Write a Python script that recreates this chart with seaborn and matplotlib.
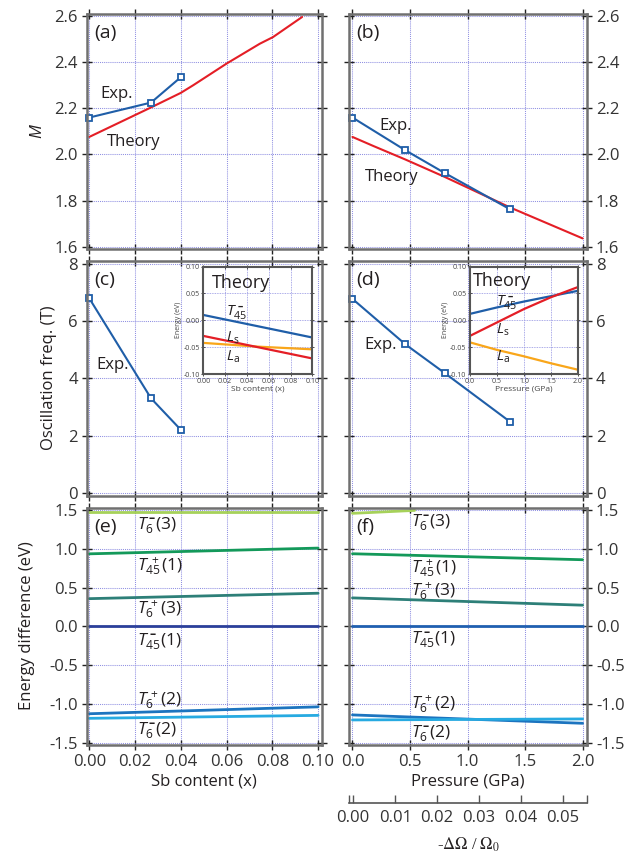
import matplotlib
matplotlib.use('Agg')
import matplotlib.pyplot as plt
from matplotlib.ticker import FormatStrFormatter
import seaborn as sns

# ---------------- data ----------------
sb_exp = [0.0, 0.027, 0.040]
M_sb_exp = [2.16, 2.225, 2.335]
sb_theory = [0.0, 0.0268, 0.040, 0.0454, 0.060, 0.0745, 0.0803, 0.093]
M_sb_theory = [2.076, 2.203, 2.267, 2.30, 2.394, 2.48, 2.509, 2.596]

p_exp = [0.0, 0.46, 0.80, 1.37]
M_p_exp = [2.16, 2.018, 1.92, 1.762]
p_theory = [0.0, 0.18, 0.46, 0.80, 1.37, 2.0]
M_p_theory = [2.076, 2.037, 1.978, 1.903, 1.770, 1.636]

F_sb_exp = [6.8, 3.3, 2.2]
F_p_exp = [6.78, 5.19, 4.19, 2.48]

# inset (c): band energies vs Sb content
inset_sb = [0.0, 0.05, 0.10]
T45_sb = [0.010, -0.011, -0.032]
Ls_sb = [-0.029, -0.050, -0.071]
La_sb = [-0.042, -0.049, -0.054]

# inset (d): band energies vs pressure
inset_p = [0.0, 0.5, 1.0, 1.5, 2.0]
T45_p = [0.012, 0.024, 0.035, 0.045, 0.055]
Ls_p = [-0.029, -0.004, 0.021, 0.043, 0.062]
La_p = [-0.041, -0.055, -0.067, -0.080, -0.092]

# (e) energy levels vs Sb content
e_x = [0.0, 0.10]
e_T6m3 = [1.475, 1.475]
e_T45p1 = [0.935, 1.009]
e_T6p3 = [0.357, 0.427]
e_T45m1 = [0.0, 0.0]
e_T6p2 = [-1.127, -1.038]
e_T6m2 = [-1.186, -1.148]

# (f) energy levels vs pressure
f_x = [0.0, 2.0]
f_x_T6m3 = [0.0, 0.54]
f_T6m3 = [1.457, 1.495]
f_T45p1 = [0.936, 0.859]
f_T6p3 = [0.367, 0.273]
f_T45m1 = [0.0, 0.0]
f_T6p2 = [-1.142, -1.250]
f_T6m2 = [-1.207, -1.194]

level_names = [('6', '-', '(3)'), ('45', '+', '(1)'), ('6', '+', '(3)'),
               ('45', '-', '(1)'), ('6', '+', '(2)'), ('6', '-', '(2)')]
e_label_y = [1.30, 0.78, 0.22, -0.20, -0.95, -1.35]
f_label_y = [1.33, 0.75, 0.45, -0.17, -1.0, -1.38]

sb_ticks = [0.0, 0.02, 0.04, 0.06, 0.08, 0.10]
p_ticks = [0.0, 0.5, 1.0, 1.5, 2.0]
M_ticks = [1.6, 1.8, 2.0, 2.2, 2.4, 2.6]
F_ticks = [0, 2, 4, 6, 8]
E_ticks = [-1.5, -1.0, -0.5, 0.0, 0.5, 1.0, 1.5]
omega_ticks = [0.00, 0.01, 0.02, 0.03, 0.04, 0.05]

# ---------------- style ----------------
sns.set_theme(style='white')
plt.rcParams['font.family'] = ['Open Sans', 'DejaVu Sans']
plt.rcParams['mathtext.fontset'] = 'custom'
plt.rcParams['mathtext.rm'] = 'Open Sans'
plt.rcParams['mathtext.it'] = 'Open Sans:italic'
plt.rcParams['mathtext.bf'] = 'Open Sans:bold'
plt.rcParams['axes.unicode_minus'] = False

blue = '#1f5ea8'
red = '#e41e26'
orange = '#f9a61a'
gridc = '#9090e2'
txt = '#231f20'

W, H = 641, 855
fig = plt.figure(figsize=(W / 100, H / 100), dpi=100)


def rect(x0, y0, x1, y1):
    return [x0 / W, 1 - y1 / H, (x1 - x0) / W, (y1 - y0) / H]


axA = fig.add_axes(rect(87, 14, 322, 249))
axB = fig.add_axes(rect(349, 14, 587, 249))
axC = fig.add_axes(rect(87, 261, 322, 496))
axD = fig.add_axes(rect(349, 261, 587, 496))
axE = fig.add_axes(rect(87, 508, 322, 745))
axF = fig.add_axes(rect(349, 508, 587, 745))


def style(ax, xlim, ylim, xticks, yticks, side, xlab, xfmt, yfmt):
    ax.set_xlim(xlim)
    ax.set_ylim(ylim)
    ax.set_xticks(xticks)
    ax.set_yticks(yticks)
    ax.xaxis.set_major_formatter(FormatStrFormatter(xfmt))
    ax.yaxis.set_major_formatter(FormatStrFormatter(yfmt))
    ax.set_axisbelow(True)
    ax.grid(True, color=gridc, ls=(0, (1, 1)), lw=0.75)
    ax.tick_params(direction='inout', length=7, width=1, color='#222222',
                   top=True, right=True, bottom=True, left=True,
                   labelsize=12, labelcolor='#333333', pad=3)
    if side == 'right':
        ax.tick_params(labelleft=False, labelright=True)
    if not xlab:
        ax.tick_params(labelbottom=False)
    for s in ax.spines.values():
        s.set_color('#707070')
        s.set_linewidth(1.8)
    ax.set_xlabel('')
    ax.set_ylabel('')


def tlabel(sub, sign, rest):
    sg = '\\mathbf{\u2013}' if sign == '-' else '+'
    gap = '\\,' if len(sub) == 1 else '\\;'
    return '$T_{%s}^{%s%s}$%s' % (sub, gap, sg, rest)


mk = dict(marker='s', markersize=5, markerfacecolor='white',
          markeredgecolor=blue, markeredgewidth=1.3, clip_on=False)

# (a)
sns.lineplot(x=sb_theory, y=M_sb_theory, ax=axA, color=red, lw=1.5, sort=False)
sns.lineplot(x=sb_exp, y=M_sb_exp, ax=axA, color=blue, lw=1.5, **mk)
style(axA, (-0.001, 0.1017), (1.59, 2.609), sb_ticks, M_ticks, 'left', False, '%.2f', '%.1f')
axA.text(0.005, 2.264, 'Exp.', fontsize=12, color=txt, va='center')
axA.text(0.0075, 2.055, 'Theory', fontsize=12, color=txt, va='center')

# (b)
sns.lineplot(x=p_theory, y=M_p_theory, ax=axB, color=red, lw=1.5, sort=False)
sns.lineplot(x=p_exp, y=M_p_exp, ax=axB, color=blue, lw=1.5, **mk)
style(axB, (-0.03, 2.038), (1.59, 2.609), p_ticks, M_ticks, 'right', False, '%.1f', '%.1f')
axB.text(0.232, 2.122, 'Exp.', fontsize=12, color=txt, va='center')
axB.text(0.107, 1.903, 'Theory', fontsize=12, color=txt, va='center')

# (c)
sns.lineplot(x=sb_exp, y=F_sb_exp, ax=axC, color=blue, lw=1.5, **mk)
style(axC, (-0.001, 0.1017), (-0.115, 8.105), sb_ticks, F_ticks, 'left', False, '%.2f', '%d')
axC.text(0.003, 4.47, 'Exp.', fontsize=12, color=txt, va='center')

# (d)
sns.lineplot(x=p_exp, y=F_p_exp, ax=axD, color=blue, lw=1.5, **mk)
style(axD, (-0.03, 2.038), (-0.115, 8.105), p_ticks, F_ticks, 'right', False, '%.1f', '%d')
axD.text(0.107, 5.17, 'Exp.', fontsize=12, color=txt, va='center')

# (e)
sns.lineplot(x=e_x, y=e_T6m3, ax=axE, color='#a6d15a', lw=2)
sns.lineplot(x=e_x, y=e_T45p1, ax=axE, color='#13995a', lw=2)
sns.lineplot(x=e_x, y=e_T6p3, ax=axE, color='#2d7f78', lw=2)
sns.lineplot(x=e_x, y=e_T45m1, ax=axE, color='#2b3f9a', lw=2)
sns.lineplot(x=e_x, y=e_T6p2, ax=axE, color='#1c74bf', lw=2)
sns.lineplot(x=e_x, y=e_T6m2, ax=axE, color='#27aae1', lw=2)
style(axE, (-0.001, 0.1017), (-1.53, 1.526), sb_ticks, E_ticks, 'left', True, '%.2f', '%.1f')

# (f)
sns.lineplot(x=f_x_T6m3, y=f_T6m3, ax=axF, color='#a6d15a', lw=2)
sns.lineplot(x=f_x, y=f_T45p1, ax=axF, color='#13995a', lw=2)
sns.lineplot(x=f_x, y=f_T6p3, ax=axF, color='#2d7f78', lw=2)
sns.lineplot(x=f_x, y=f_T45m1, ax=axF, color='#1f5fb0', lw=2)
sns.lineplot(x=f_x, y=f_T6p2, ax=axF, color='#1c74bf', lw=2)
sns.lineplot(x=f_x, y=f_T6m2, ax=axF, color='#27aae1', lw=2)
style(axF, (-0.03, 2.038), (-1.53, 1.526), p_ticks, E_ticks, 'right', True, '%.1f', '%.1f')

for (sub, sign, rest), y in zip(level_names, e_label_y):
    axE.text(0.021, y, tlabel(sub, sign, rest), fontsize=12.5, color=txt, va='center')
for (sub, sign, rest), y in zip(level_names, f_label_y):
    axF.text(0.51, y, tlabel(sub, sign, rest), fontsize=12.5, color=txt, va='center')

# panel letters
for ax, l in zip([axA, axB, axC, axD, axE, axF], ['(a)', '(b)', '(c)', '(d)', '(e)', '(f)']):
    ax.text(0.03, 0.92, l, transform=ax.transAxes, fontsize=14, color=txt, va='center')


# insets
def inset_style(ax, xlim, xticks, xfmt, xlabel):
    ax.set_facecolor('white')
    ax.set_xlim(xlim)
    ax.set_ylim(-0.10, 0.10)
    ax.set_xticks(xticks)
    ax.set_yticks([-0.10, -0.05, 0.0, 0.05, 0.10])
    ax.xaxis.set_major_formatter(FormatStrFormatter(xfmt))
    ax.yaxis.set_major_formatter(FormatStrFormatter('%.2f'))
    ax.set_axisbelow(True)
    ax.grid(True, color=gridc, ls=(0, (1, 1)), lw=0.6)
    ax.tick_params(direction='inout', length=3, width=0.6, color='#333333',
                   top=True, right=True, bottom=True, left=True,
                   labelsize=5, labelcolor='#444444', pad=1)
    for s in ax.spines.values():
        s.set_color('#555555')
        s.set_linewidth(1.5)
    ax.set_xlabel(xlabel, fontsize=6, color='#444444', labelpad=1)
    ax.set_ylabel('Energy (eV)', fontsize=5, color='#444444', labelpad=1)


insC = axC.inset_axes([0.495, 0.519, 0.464, 0.457])
sns.lineplot(x=inset_sb, y=La_sb, ax=insC, color=orange, lw=1.6)
sns.lineplot(x=inset_sb, y=Ls_sb, ax=insC, color=red, lw=1.6)
sns.lineplot(x=inset_sb, y=T45_sb, ax=insC, color=blue, lw=1.6)
inset_style(insC, (0, 0.10), sb_ticks, '%.2f', 'Sb content (x)')
insC.text(0.008, 0.069, 'Theory', fontsize=13, color=txt, va='center')
insC.text(0.021, 0.016, tlabel('45', '-', ''), fontsize=11, color=txt, va='center')
insC.text(0.021, -0.033, r'$L_{\mathrm{s}}$', fontsize=10.5, color=txt, va='center')
insC.text(0.021, -0.068, r'$L_{\mathrm{a}}$', fontsize=10.5, color=txt, va='center')

insD = axD.inset_axes([0.508, 0.519, 0.454, 0.457])
sns.lineplot(x=inset_p, y=La_p, ax=insD, color=orange, lw=1.6)
sns.lineplot(x=inset_p, y=T45_p, ax=insD, color=blue, lw=1.6)
sns.lineplot(x=inset_p, y=Ls_p, ax=insD, color=red, lw=1.6)
inset_style(insD, (0, 2.0), p_ticks, '%.1f', 'Pressure (GPa)')
insD.text(0.06, 0.074, 'Theory', fontsize=13, color=txt, va='center')
insD.text(0.49, 0.034, tlabel('45', '-', ''), fontsize=11, color=txt, va='center')
insD.text(0.49, -0.018, r'$L_{\mathrm{s}}$', fontsize=10.5, color=txt, va='center')
insD.text(0.49, -0.068, r'$L_{\mathrm{a}}$', fontsize=10.5, color=txt, va='center')

# axis labels
fig.text(38 / W, 1 - 131 / H, r'$M$', fontsize=12, color=txt, rotation=90, ha='center', va='center')
fig.text(49 / W, 1 - 378 / H, 'Oscillation freq. (T)', fontsize=12, color=txt, rotation=90,
         ha='center', va='center')
fig.text(27 / W, 1 - 626 / H, 'Energy difference (eV)', fontsize=12, color=txt, rotation=90,
         ha='center', va='center')
fig.text(204 / W, 1 - 781 / H, 'Sb content (x)', fontsize=12, color=txt, ha='center', va='center')
fig.text(468 / W, 1 - 781 / H, 'Pressure (GPa)', fontsize=12, color=txt, ha='center', va='center')

# secondary volume-change axis
axO = fig.add_axes([349 / W, 1 - 803 / H, 238 / W, 0.0001])
axO.set_facecolor('none')
for k in ['top', 'left', 'right']:
    axO.spines[k].set_visible(False)
axO.spines['bottom'].set_color('#555555')
axO.spines['bottom'].set_linewidth(1.2)
axO.set_xlim(-0.001, 0.0557)
axO.set_xticks(omega_ticks)
axO.set_xticks([-0.001, 0.0557], minor=True)
axO.xaxis.set_major_formatter(FormatStrFormatter('%.2f'))
axO.set_yticks([])
axO.tick_params(axis='x', which='both', direction='in', length=6, width=1, color='#555555',
                bottom=True, top=False, labelsize=12, labelcolor='#333333', pad=5)
fig.text(468 / W, 1 - 845 / H, r'-$\Delta\Omega$ / $\Omega_0$', fontsize=12, color=txt,
         ha='center', va='center', family='Liberation Serif', math_fontfamily='stix')

fig.savefig('out.png', dpi=100)
